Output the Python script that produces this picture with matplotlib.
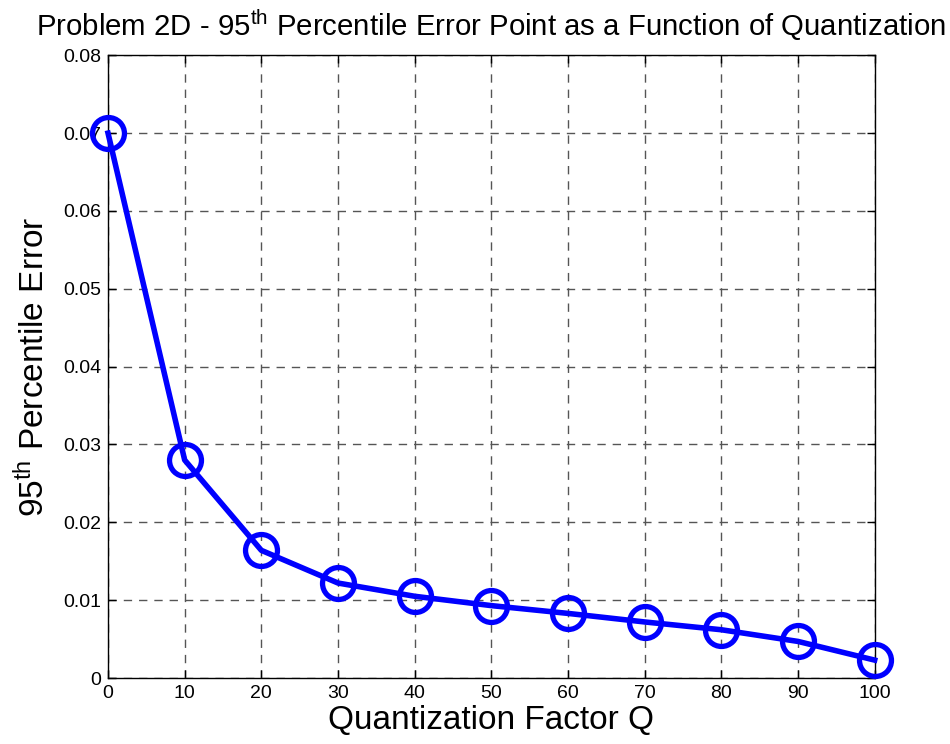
import matplotlib
matplotlib.use("Agg")
import matplotlib.pyplot as plt

q = [0, 10, 20, 30, 40, 50, 60, 70, 80, 90, 100]
err = [0.0700, 0.0280, 0.0164, 0.0122, 0.0105, 0.0093, 0.0083, 0.0072, 0.0062, 0.0047, 0.0023]
xticks = [0, 10, 20, 30, 40, 50, 60, 70, 80, 90, 100]
yticks = [0, 0.01, 0.02, 0.03, 0.04, 0.05, 0.06, 0.07, 0.08]
ytick_labels = ["0", "0.01", "0.02", "0.03", "0.04", "0.05", "0.06", "0.07", "0.08"]

plt.rcParams['font.family'] = ['Liberation Sans', 'DejaVu Sans']
plt.rcParams['mathtext.fontset'] = 'custom'
plt.rcParams['mathtext.rm'] = 'Liberation Sans'
plt.rcParams['mathtext.it'] = 'Liberation Sans'

fig = plt.figure(figsize=(9.5, 7.44), dpi=100)
ax = fig.add_axes([0.1137, 0.0887, 0.807, 0.837])

ax.plot(q, err, color='#0000ff', linewidth=4, marker='o', markersize=23,
        markerfacecolor='none', markeredgewidth=3.8, markeredgecolor='#0000ff',
        clip_on=False, zorder=3)

ax.set_xlim(0, 100)
ax.set_ylim(0, 0.08)
ax.set_xticks(xticks)
ax.set_yticks(yticks)
ax.set_yticklabels(ytick_labels)
ax.tick_params(direction='in', top=True, right=True, labelsize=14, length=6, width=1, pad=5)
ax.grid(True, color='#555555', linestyle=(0, (6, 5)), linewidth=1)
for s in ax.spines.values():
    s.set_linewidth(1)

ax.set_xlabel('Quantization Factor Q', fontsize=24, labelpad=2)
ax.set_ylabel(r'95$^{\mathrm{th}}$ Percentile Error', fontsize=24, labelpad=9)
ax.set_title(r'Problem 2D - 95$^{\mathrm{th}}$ Percentile Error Point as a Function of Quantization',
             fontsize=21.2, pad=14)

fig.savefig('out.png', dpi=100)
